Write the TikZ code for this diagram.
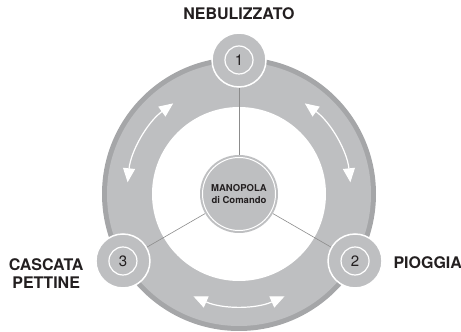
\documentclass[tikz,border=0pt]{standalone}
\usepackage{fontspec}
\setmainfont{TeX Gyre Heros}
\usetikzlibrary{arrows.meta}
\definecolor{ringgrau}{RGB}{190,191,193}
\definecolor{randgrau}{RGB}{165,166,168}
\definecolor{speichengrau}{RGB}{140,140,140}
\definecolor{textgrau}{RGB}{35,31,32}
\tikzset{
	stufe/.style={circle, fill=ringgrau, draw=white, line width=1.5pt, minimum size=54pt, inner sep=0pt},
	stufeinnen/.style={circle, draw=white, line width=1.2pt, minimum size=28pt, inner sep=0pt, font=\fontsize{15}{15}\selectfont, text=textgrau},
	titel/.style={font=\bfseries\fontsize{16}{18}\selectfont, text=textgrau, align=center},
	pfeil/.style={white, line width=1.2pt, {Triangle[width=12pt,length=14pt]}-{Triangle[width=12pt,length=14pt]}}
}
\begin{document}
\begin{tikzpicture}[x=1pt,y=1pt]
				\useasboundingbox (0,0) rectangle (461,332);
				\coordinate (C) at (239,138);
				%ring
				\fill[randgrau] (C) circle (137);
				\fill[ringgrau] (C) circle (132);
				\fill[white] (C) circle (87);
				%pfeile
				\foreach \w in {150, 30, 270} {
					\draw[pfeil] ([shift={(\w-24:112)}]C) arc (\w-24:\w+24:112);
				}
				%knopf
				\node[circle, fill=ringgrau, minimum size=78pt, inner sep=0pt] (knopf) at (C) {};
				\node[circle, draw=white, line width=1pt, minimum size=73pt, inner sep=0pt, align=center, text=textgrau, font=\bfseries\fontsize{9.5}{12}\selectfont] (knopfinnen) at (C) {MANOPOLA\\di Comando};
				%stufen
				\foreach \nr/\w in {1/90, 2/-30, 3/210} {
					\node[stufe] (n\nr) at ([shift={(\w:134)}]C) {};
					\node[stufeinnen] (zahl\nr) at (n\nr) {\nr};
					\draw[speichengrau, line width=0.6pt] (knopf) -- (n\nr);
				}
				%beschriftung
				\node[titel] (nebel) at (239,318) {NEBULIZZATO};
				\node[titel, anchor=west] (regen) at (390,69) {PIOGGIA};
				\node[titel, anchor=east] (kaskade) at (87,58) {CASCATA\\PETTINE};
\end{tikzpicture}
\end{document}
